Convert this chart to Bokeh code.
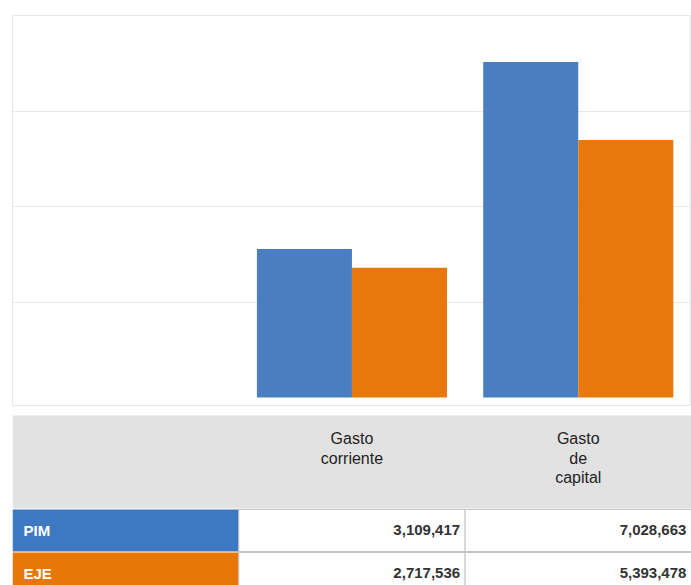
from bokeh.plotting import figure
from bokeh.layouts import column
from bokeh.models import Range1d, Grid, FixedTicker, ColumnDataSource
from bokeh.embed import file_html
from bokeh.resources import INLINE
from bokeh.core.properties import value

# ---------------- data ----------------
categories = ["Gasto corriente", "Gasto de capital"]
header_lines = [["Gasto", "corriente"], ["Gasto", "de", "capital"]]
series_names = ["PIM", "EJE"]
pim = [3109417, 7028663]
eje = [2717536, 5393478]
y_ticks = [2000000, 4000000, 6000000, 8000000]

# ---------------- styles ----------------
BLUE = "#4A7EC1"
ORANGE = "#E8780C"
BLUE_CELL = "#3F78C2"
ORANGE_CELL = "#E8770A"
FONT = "Liberation Sans"

W = 691
LEFT = 12
COL_PX = 226.3
FRAME_W = W - LEFT
X_END = FRAME_W / COL_PX
x_range = Range1d(0, X_END)

# category positions: column 0 is the label column of the table
centers = [i + 1.5 for i in range(len(categories))]
bar_w = 0.42

# ---------------- chart ----------------
p = figure(width=W, height=410, x_range=x_range,
           y_range=Range1d(-167500, 8000000),
           x_axis_type=None, y_axis_type=None,
           output_backend="svg", toolbar_location=None,
           min_border_left=LEFT, min_border_right=0,
           min_border_top=15, min_border_bottom=5)
p.outline_line_color = "#e6e6e6"
p.background_fill_color = "white"
p.border_fill_color = "white"
p.add_layout(Grid(dimension=1, ticker=FixedTicker(ticks=y_ticks),
                  grid_line_color="#e8e8e8", grid_line_width=1))

src = ColumnDataSource(dict(
    xb=[c - bar_w / 2 for c in centers],
    xo=[c + bar_w / 2 for c in centers],
    pim=pim, eje=eje))
p.vbar(x="xb", width=bar_w, top="pim", bottom=0, source=src,
       fill_color=BLUE, line_color=None)
p.vbar(x="xo", width=bar_w, top="eje", bottom=0, source=src,
       fill_color=ORANGE, line_color=None)

# ---------------- table ----------------
t = figure(width=W, height=175, x_range=x_range,
           y_range=Range1d(585, 410),
           x_axis_type=None, y_axis_type=None,
           output_backend="svg", toolbar_location=None,
           min_border_left=LEFT, min_border_right=0,
           min_border_top=0, min_border_bottom=0)
t.outline_line_color = None
t.grid.visible = False
t.border_fill_color = "white"

HEAD_TOP, HEAD_BOTTOM = 415, 508
ROW_TOP, ROW_H = 509, 43

t.quad(left=0, right=3.2, top=HEAD_TOP, bottom=HEAD_BOTTOM,
       fill_color="#e2e2e2", line_color=None)

# header text
hx, hy, ht = [], [], []
for c, lines in zip(centers, header_lines):
    for j, ln in enumerate(lines):
        hx.append(c)
        hy.append(438 + 19.5 * j)
        ht.append(ln)
t.text(x=hx, y=hy, text=ht, text_align="center", text_baseline="alphabetic",
       text_font=value(FONT), text_font_size="16px", text_color="#1e1e1e")

cell_colors = [BLUE_CELL, ORANGE_CELL]
values = [pim, eje]
for r, (name, vals, col) in enumerate(zip(series_names, values, cell_colors)):
    top = ROW_TOP + r * ROW_H
    bot = top + ROW_H - 1
    t.quad(left=0, right=1, top=top, bottom=bot, fill_color=col, line_color=None)
    t.text(x=[11 / COL_PX], y=[top + 20.5], text=[name], text_align="left",
           text_baseline="alphabetic", text_font=value(FONT),
           text_font_size="15px", text_font_style="bold", text_color="white")
    lefts = [c - 0.5 for c in centers]
    rights = [c + 0.5 for c in centers]
    t.quad(left=lefts, right=rights, top=top, bottom=bot,
           fill_color="white", line_color="#c4c4c4", line_width=1)
    vx = [min(rr, X_END) - 5 / COL_PX for rr in rights]
    t.text(x=vx, y=[top + 20] * len(vals), text=[f"{v:,}" for v in vals],
           text_align="right", text_baseline="alphabetic",
           text_font=value(FONT), text_font_size="15px",
           text_font_style="bold", text_color="#333333")

layout = column(p, t, spacing=0)
open("out.html", "w").write(file_html(layout, INLINE))
